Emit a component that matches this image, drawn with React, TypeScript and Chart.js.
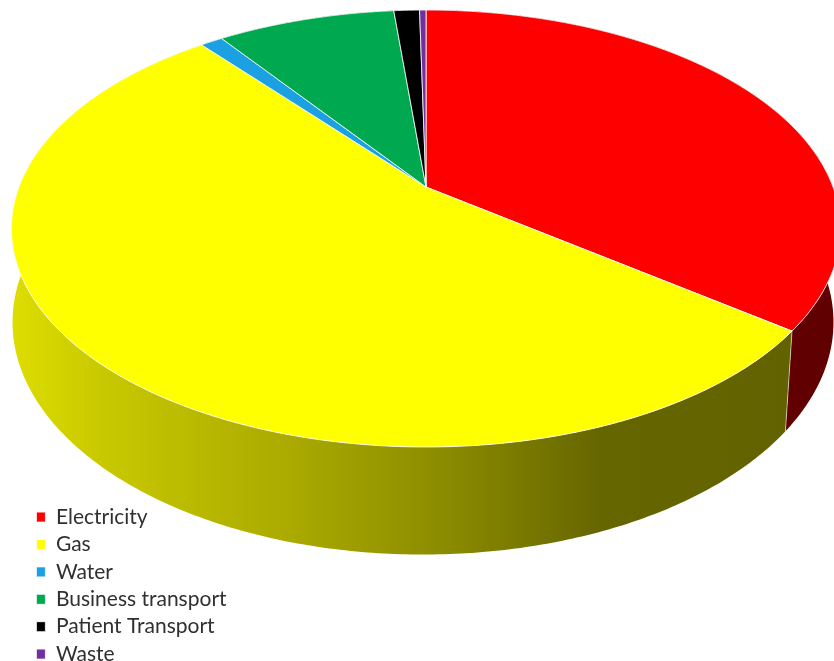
import React, { useEffect, useRef } from "react";
import { Chart, ArcElement, DoughnutController, Legend } from "chart.js";

const categories = ["Electricity", "Gas", "Water", "Business transport", "Patient Transport", "Waste"];
const shares = [35.35, 53.75, 1.05, 8.35, 1.2, 0.3];
const sliceColors = ["#ff0000", "#ffff00", "#1ba1e2", "#00a94f", "#000000", "#7030a0"];

// Perspective projection of the pie's top and bottom discs.
const TOP_DISC = { x: 426, y: 187, rx: 407, ry: 210.6, k: -0.19 };
const BOTTOM_DISC = { x: 423, y: 278, rx: 403, ry: 224, k: -0.19 };

// Brightness of the side wall, by horizontal position across the canvas.
const WALL_SHADE: [number, number][] = [
  [0, 0.88],
  [0.12, 0.79],
  [0.36, 0.66],
  [0.54, 0.54],
  [0.72, 0.4],
  [1, 0.38],
];

type Disc = typeof TOP_DISC;

function project(d: Disc, angle: number): [number, number] {
  const w = 1 + d.k * Math.sin(angle);
  return [d.x + (d.rx * Math.cos(angle)) / w, d.y + (d.ry * Math.sin(angle)) / w];
}

function shade(hex: string, f: number): string {
  const n = parseInt(hex.slice(1), 16);
  const c = [(n >> 16) & 255, (n >> 8) & 255, n & 255].map((v) => Math.round(v * f));
  return `rgb(${c[0]},${c[1]},${c[2]})`;
}

class TiltedArc extends ArcElement {
  static id = "tiltedArc";
  static defaults = { ...ArcElement.defaults };

  traceRim(ctx: CanvasRenderingContext2D, d: Disc, from: number, to: number, first: boolean) {
    const steps = Math.max(2, Math.ceil(Math.abs(to - from) * 90));
    for (let i = 0; i <= steps; i++) {
      const [px, py] = project(d, from + ((to - from) * i) / steps);
      if (i === 0 && first) ctx.moveTo(px, py);
      else ctx.lineTo(px, py);
    }
  }

  drawWall(ctx: CanvasRenderingContext2D) {
    const a = (this as any).startAngle;
    const b = (this as any).endAngle;
    const base = (this as any).options.backgroundColor;
    const grad = ctx.createLinearGradient(0, 0, ctx.canvas.width, 0);
    WALL_SHADE.forEach(([pos, f]) => grad.addColorStop(pos, shade(base, f)));
    ctx.save();
    ctx.beginPath();
    this.traceRim(ctx, TOP_DISC, a, b, true);
    this.traceRim(ctx, BOTTOM_DISC, b, a, false);
    ctx.closePath();
    ctx.fillStyle = grad;
    ctx.fill();
    ctx.strokeStyle = "rgba(255,255,255,0.55)";
    ctx.lineWidth = 1;
    ctx.beginPath();
    const [sx, sy] = project(TOP_DISC, a);
    const [ex, ey] = project(BOTTOM_DISC, a);
    if (Math.sin(a) > 0) {
      ctx.moveTo(sx, sy);
      ctx.lineTo(ex, ey);
      ctx.stroke();
    }
    ctx.restore();
  }

  draw(ctx: CanvasRenderingContext2D) {
    const { startAngle, endAngle, options } = this as any;
    ctx.save();
    ctx.beginPath();
    ctx.moveTo(TOP_DISC.x, TOP_DISC.y);
    this.traceRim(ctx, TOP_DISC, startAngle, endAngle, false);
    ctx.closePath();
    ctx.fillStyle = options.backgroundColor;
    ctx.fill();
    ctx.strokeStyle = options.borderColor;
    ctx.lineWidth = options.borderWidth;
    ctx.lineJoin = "round";
    ctx.stroke();
    ctx.restore();
  }
}

class TiltedPieController extends DoughnutController {
  static id = "tiltedPie";
  static defaults = { ...DoughnutController.defaults, dataElementType: "tiltedArc" };

  draw() {
    const ctx = this.chart.ctx;
    (this as any)._cachedMeta.data.forEach((el: TiltedArc) => el.drawWall(ctx));
    super.draw();
  }
}

Chart.register(TiltedArc, TiltedPieController, Legend);

export default function App() {
  const canvasRef = useRef<HTMLCanvasElement>(null);

  useEffect(() => {
    const chart = new Chart(canvasRef.current!, {
      type: "tiltedPie" as any,
      data: {
        labels: categories,
        datasets: [
          {
            data: shares,
            backgroundColor: sliceColors,
            borderColor: "rgba(255,255,255,0.8)",
            borderWidth: 1,
            clip: false,
          } as any,
        ],
      },
      options: {
        responsive: false,
        animation: false,
        events: [],
        layout: { padding: { left: 30, bottom: -10, top: 0, right: 0 } },
        plugins: {
          legend: {
            display: true,
            position: "left",
            align: "end",
            labels: {
              boxWidth: 9,
              boxHeight: 10,
              padding: 6.4,
              color: "#303030",
              font: { family: "Lato", size: 21 },
            },
          },
        },
      } as any,
    });
    return () => chart.destroy();
  }, []);

  return (
    <div style={{ position: "fixed", left: 0, top: 0, width: 834, height: 661, background: "#fff" }}>
      <canvas ref={canvasRef} width={834} height={661} style={{ display: "block" }} />
    </div>
  );
}
